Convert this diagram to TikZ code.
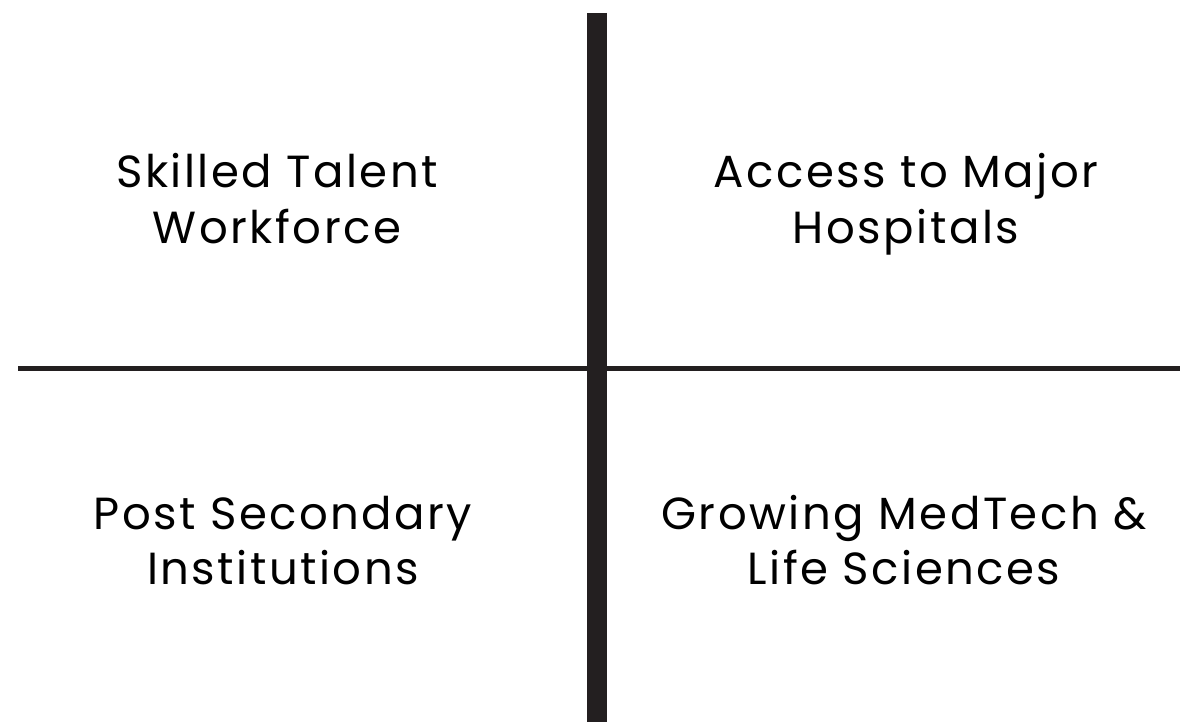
\documentclass[tikz,border=0pt]{standalone}
\usepackage{fontspec}
\setmainfont{Poppins}[LetterSpace=5.5]
\definecolor{ink}{HTML}{231F20}
\begin{document}
\begin{tikzpicture}[x=1pt,y=-1pt,
  lbl/.style={anchor=base,inner sep=0pt,font=\fontsize{45}{50}\selectfont,text=black}]
\useasboundingbox (0,0) rectangle (1180,722);
\fill[white] (0,0) rectangle (1180,722);
\coordinate (hl) at (18,368.5);
\coordinate (hr) at (1180,368.5);
\coordinate (vt) at (597,13);
\coordinate (vb) at (597,722);
\draw[ink,line width=5.5pt] (hl) -- (hr);
\draw[ink,line width=20pt] (vt) -- (vb);
\node[lbl] (a1) at (277,188) {Skilled Talent};
\node[lbl] (a2) at (277,243) {Workforce};
\node[lbl] (b1) at (906,188) {Access to Major};
\node[lbl] (b2) at (906,243) {Hospitals};
\node[lbl] (c1) at (283,529) {Post Secondary};
\node[lbl] (c2) at (283,584) {Institutions};
\node[lbl] (d1) at (904,529) {Growing MedTech \&};
\node[lbl] (d2) at (904,584) {Life Sciences};
\end{tikzpicture}
\end{document}
